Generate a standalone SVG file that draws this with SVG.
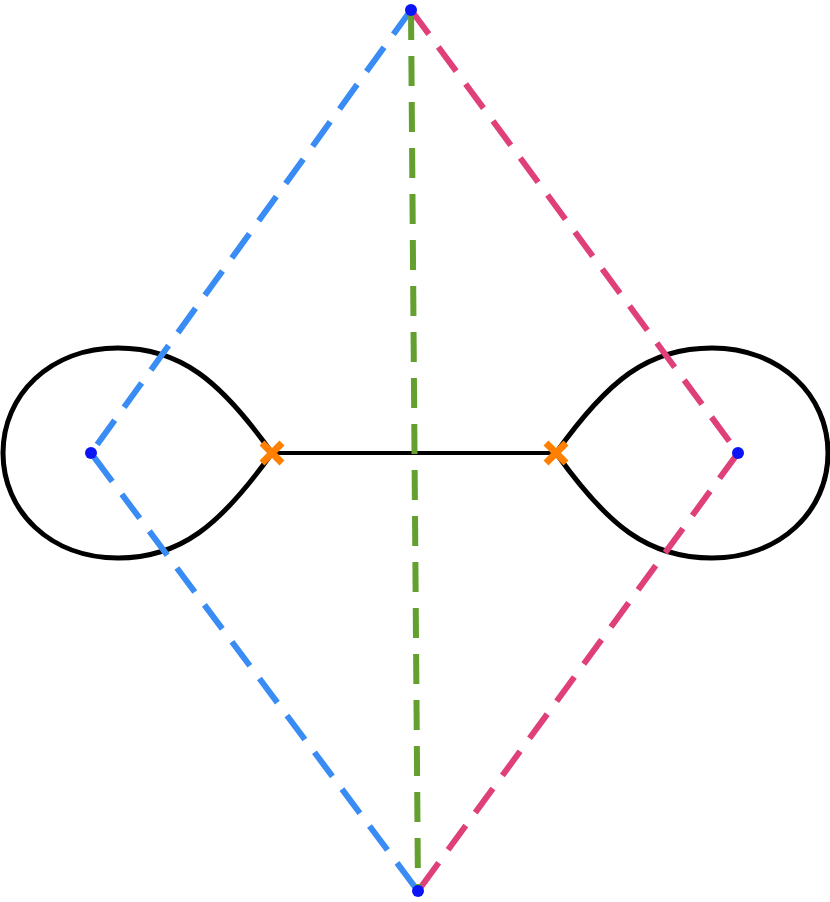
<svg xmlns="http://www.w3.org/2000/svg" width="830" height="902" viewBox="0 0 830 902">
<style>
.d{fill:none;stroke-width:6;stroke-dasharray:30 16}
.loop{fill:none;stroke:#000;stroke-width:5}
.x{stroke:#ff8000;stroke-width:7;stroke-linecap:butt}
.pt{fill:#0a14f5}
</style>
<rect width="830" height="902" fill="#fff"/>
<g id="loops">
<path class="loop" d="M272,453 C220,380 180,348 118,348 C50,348 3,395 3,453 C3,511 50,558 118,558 C180,558 220,526 272,453 Z"/>
<path class="loop" d="M556,453 C608,380 648,348 712,348 C780,348 828,395 828,453 C828,511 780,558 712,558 C648,558 608,526 556,453 Z"/>
<line x1="272" y1="453" x2="556" y2="453" stroke="#000" stroke-width="4"/>
</g>
<g id="connectors">
<path class="d" stroke="#3a8cf5" d="M411,10 L91,453 L418,891"/>
<path class="d" stroke="#e0407a" d="M411,10 L738,453 L418,891"/>
<path class="d" stroke="#64a030" d="M411,10 L418,891"/>
</g>
<g id="crosses">
<path class="x" d="M262,443 L282,463 M282,443 L262,463"/>
<path class="x" d="M546,443 L566,463 M566,443 L546,463"/>
</g>
<g id="points">
<circle class="pt" cx="411" cy="10" r="6"/>
<circle class="pt" cx="418" cy="891" r="6"/>
<circle class="pt" cx="91" cy="453" r="6"/>
<circle class="pt" cx="738" cy="453" r="6"/>
</g>
</svg>
